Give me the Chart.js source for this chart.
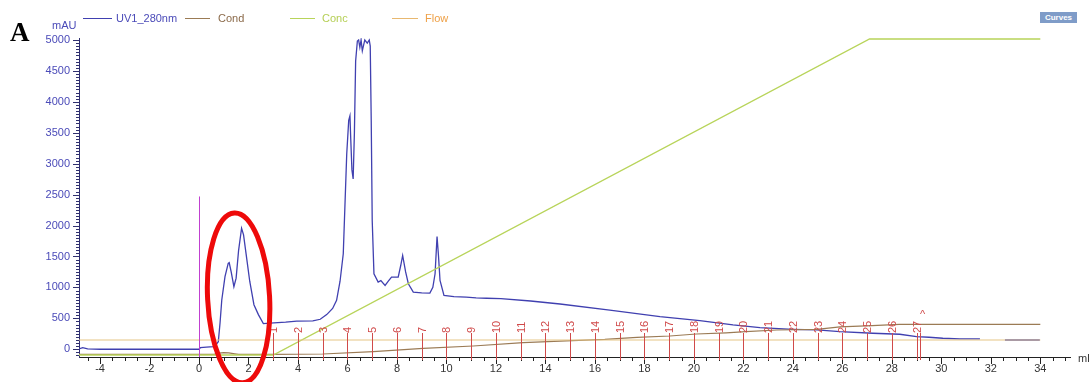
<!DOCTYPE html>
<html>
<head>
<meta charset="utf-8">
<script src="https://cdn.jsdelivr.net/npm/chart.js@4.4.1/dist/chart.umd.min.js"></script>
<style>
  body { margin: 0; background: #fff; }
  #wrap { position: relative; width: 1091px; height: 382px; overflow: hidden; }
  .t { position: absolute; font: 11px "Liberation Sans", Arial, sans-serif; white-space: nowrap; line-height: 12px; }
  .ln { position: absolute; height: 0; border-top: 1px solid; }
  #letter { position: absolute; left: 10px; top: 17px; font: bold 27px "Liberation Serif", "Times New Roman", serif; }
  #curves { position: absolute; left: 1040px; top: 12px; width: 37px; height: 11px; background: #7f9cc8;
            color: #fff; font: bold 8px "Liberation Sans", Arial, sans-serif; text-align: center; line-height: 11px; }
</style>
</head>
<body>
<div id="wrap">
  <canvas id="chrom"></canvas>
  <div id="letter">A</div>
  <div class="t" style="left:52px;top:19px;color:#4a4ab8">mAU</div>
  <div class="ln" style="left:83px;top:18px;width:29px;border-color:#4040b0"></div>
  <div class="t" style="left:116px;top:12px;color:#4a4ab8">UV1_280nm</div>
  <div class="ln" style="left:185px;top:18px;width:25px;border-color:#9b7b55"></div>
  <div class="t" style="left:218px;top:12px;color:#8b6a4a">Cond</div>
  <div class="ln" style="left:290px;top:18px;width:25px;border-color:#b8d45a"></div>
  <div class="t" style="left:322px;top:12px;color:#b5cf55">Conc</div>
  <div class="ln" style="left:392px;top:18px;width:26px;border-color:#e8b870"></div>
  <div class="t" style="left:425px;top:12px;color:#eea046">Flow</div>
  <div id="curves">Curves</div>
</div>
<script>
// UV 280 nm trace (ml, mAU)
var uvVolume = [-4.85,-4.7,-4.5,-4,-2,0,0.05,0.3,0.58,0.7,0.78,0.85,0.92,1.05,1.18,1.22,1.3,1.41,1.5,1.6,
  1.72,1.8,1.9,2.05,2.22,2.4,2.6,2.87,3.5,3.95,4.6,4.9,5.16,5.4,5.56,5.7,5.83,5.97,6.05,6.1,
  6.13,6.18,6.23,6.28,6.33,6.4,6.45,6.5,6.55,6.6,6.7,6.8,6.88,6.92,6.96,7.0,7.07,7.24,7.35,7.52,
  7.65,7.78,8.05,8.15,8.23,8.35,8.46,8.66,9.0,9.33,9.45,9.54,9.62,9.68,9.74,9.9,10.3,10.8,11.2,11.62,
  12.2,13.4,14.59,16.6,18.63,20.24,21.58,22.67,24.0,24.97,25.9,27.23,28.32,29.0,29.5,30.06,30.75,31.56,32.0,32.57,
  33.98];
var uvValue = [5,25,5,0,0,0,25,35,42,80,123,425,797,1174,1390,1400,1250,1012,1150,1600,
  1957,1850,1550,1100,720,560,414,424,440,456,458,485,560,660,790,1100,1543,3156,3700,3774,
  3424,2900,2753,3500,4661,4984,5000,4880,5000,4823,5000,4950,5000,4900,3700,2080,1221,1086,1110,1032,
  1100,1166,1166,1350,1516,1250,1059,924,912,908,1000,1221,1823,1500,1113,871,852,844,832,825,
  818,780,732,634,527,463,393,349,323,312,285,259,243,204,194,178,167,167,null,150,
  150];

// conductivity (mS/cm)
var condVolume = [-4.85,0.6,0.8,1.0,1.2,1.45,1.6,3.0,5.0,7.04,9.06,11.08,13.1,15.1,16.4,17.7,19.03,20.1,21.3,22.1,23.35,24.97,25.9,27.2,28.3,34.0];
var condValue  = [1,1,3,4,3.5,2,1,1,1.7,5.5,11,15,20.5,24,26,29.5,31.7,35,37,39,41.7,42.8,47,49,51,51];

// gradient concentration (%B)
var concVolume = [-4.85,3.0,27.1,34.0];
var concValue  = [0,0,100,100];

// flow (ml/min)
var flowVolume = [-4.85,34.0];
var flowValue  = [1,1];

// fractions
var fractionVolume = [3,4,5,6,7,8,9,10,11,12,13,14,15,16,17,18,19,20,21,22,23,24,25,26,27,28,29];
var fractionLabel  = ['1','2','3','4','5','6','7','8','9','10','11','12','13','14','15','16','17','18','19','20','21','22','23','24','25','26','27'];
var fractionEnd = 29.12;

// injection mark
var injectVolume = 0;
var injectTop = 2470;

// highlighted peaks (red ring), centre in ml / mAU
var ringVolume = 1.6;
var ringValue = 830;

// tick labels
var xTickValues = [-4,-2,0,2,4,6,8,10,12,14,16,18,20,22,24,26,28,30,32,34];
var yTickValues = [0,500,1000,1500,2000,2500,3000,3500,4000,4500,5000];

function pts(xs, ys) {
  var out = [];
  for (var i = 0; i < xs.length; i++) out.push({x: xs[i], y: ys[i]});
  return out;
}
function asTicks(vals) {
  return vals.map(function(v) { return {value: v}; });
}
function plain(v) { return String(v); }

var FONT = '"Liberation Sans", Arial, sans-serif';

var extras = {
  id: 'extras',
  afterDatasetsDraw: function(chart) {
    var ctx = chart.ctx;
    var xs = chart.scales.x, ys = chart.scales.y;
    var area = chart.chartArea;
    ctx.save();
    // x ticks, long every 2 ml, short every 0.5 ml
    ctx.strokeStyle = '#222';
    ctx.lineWidth = 1;
    for (var v = Math.ceil(xs.min * 2) / 2; v <= xs.max; v += 0.5) {
      var px = Math.round(xs.getPixelForValue(v)) + 0.5;
      var major = Math.abs(v % 2) < 1e-6;
      ctx.beginPath();
      ctx.moveTo(px, area.bottom);
      ctx.lineTo(px, area.bottom + (major ? 7 : 4));
      ctx.stroke();
    }
    // y ticks
    ctx.strokeStyle = '#303070';
    for (var w = -100; w <= 5000; w += 50) {
      var py = Math.round(ys.getPixelForValue(w)) + 0.5;
      var maj = w % 500 === 0;
      ctx.beginPath();
      ctx.moveTo(area.left, py);
      ctx.lineTo(area.left - (maj ? 6 : 3), py);
      ctx.stroke();
    }
    // injection mark
    ctx.strokeStyle = '#c040d0';
    var ix = Math.round(xs.getPixelForValue(injectVolume)) + 0.5;
    ctx.beginPath();
    ctx.moveTo(ix, ys.getPixelForValue(injectTop));
    ctx.lineTo(ix, area.bottom);
    ctx.stroke();
    // fractions
    ctx.strokeStyle = '#d04a4a';
    ctx.fillStyle = '#d04a4a';
    ctx.font = '11px ' + FONT;
    for (var i = 0; i < fractionVolume.length; i++) {
      var fx = Math.round(xs.getPixelForValue(fractionVolume[i])) + 0.5;
      ctx.beginPath();
      ctx.moveTo(fx, area.bottom - 24);
      ctx.lineTo(fx, area.bottom + 3);
      ctx.stroke();
      ctx.save();
      ctx.translate(fx + 0.5, area.bottom - 24);
      ctx.rotate(-Math.PI / 2);
      ctx.textAlign = 'left';
      ctx.textBaseline = 'middle';
      ctx.fillText(fractionLabel[i], 0, 0);
      ctx.restore();
    }
    var ex = Math.round(xs.getPixelForValue(fractionEnd)) + 0.5;
    ctx.beginPath();
    ctx.moveTo(ex, area.bottom - 24);
    ctx.lineTo(ex, area.bottom + 3);
    ctx.stroke();
    ctx.textAlign = 'center';
    ctx.textBaseline = 'middle';
    ctx.fillText('^', ex + 2, area.bottom - 42);
    // unit label
    ctx.fillStyle = '#333';
    ctx.textAlign = 'left';
    ctx.fillText('ml', area.right + 8, area.bottom + 2);
    ctx.restore();
  },
  afterDraw: function(chart) {
    // red ring drawn on top of everything
    var ctx = chart.ctx;
    var cx = chart.scales.x.getPixelForValue(ringVolume);
    var cy = chart.scales.y.getPixelForValue(ringValue);
    ctx.save();
    ctx.strokeStyle = '#ee0a0a';
    ctx.lineWidth = 5;
    ctx.beginPath();
    ctx.ellipse(cx, cy, 31, 85, -0.05, 0, Math.PI * 2);
    ctx.stroke();
    ctx.restore();
  }
};

var ctx = document.getElementById('chrom').getContext('2d');
window.chrom = new Chart(ctx, {
  type: 'line',
  data: {
    datasets: [
      { label: 'Flow', data: pts(flowVolume, flowValue), yAxisID: 'yFlow',
        borderColor: '#e6c585', borderWidth: 1.2, pointRadius: 0 },
      { label: 'Conc', data: pts(concVolume, concValue), yAxisID: 'yConc',
        borderColor: '#b8d45a', borderWidth: 1.3, pointRadius: 0 },
      { label: 'Cond', data: pts(condVolume, condValue), yAxisID: 'yCond',
        borderColor: '#9b7b55', borderWidth: 1.2, pointRadius: 0 },
      { label: 'UV1_280nm', data: pts(uvVolume, uvValue), yAxisID: 'y',
        borderColor: '#4040b0', borderWidth: 1.3, pointRadius: 0, spanGaps: false }
    ]
  },
  options: {
    responsive: true,
    maintainAspectRatio: false,
    animation: false,
    layout: { padding: { top: 38, right: 21, left: 0, bottom: 0 } },
    plugins: { legend: { display: false }, tooltip: { enabled: false } },
    scales: {
      x: {
        type: 'linear', min: -4.85, max: 35.2,
        grid: { display: false, drawTicks: false },
        border: { display: true, color: '#222' },
        ticks: {
          autoSkip: false, maxRotation: 0, padding: 5,
          color: '#333', font: { family: FONT, size: 11 }, callback: plain
        },
        afterBuildTicks: function(s) { s.ticks = asTicks(xTickValues); },
        afterFit: function(s) { s.height = 25; }
      },
      y: {
        min: -125, max: 5032,
        grid: { display: false, drawTicks: false },
        border: { display: true, color: '#303070' },
        ticks: {
          autoSkip: false, padding: 9,
          color: '#4a4ab8', font: { family: FONT, size: 11 }, callback: plain
        },
        afterBuildTicks: function(s) { s.ticks = asTicks(yTickValues); },
        afterFit: function(s) { s.width = 79; }
      },
      yConc: { display: false, min: -0.633, max: 100.316 },
      yCond: { display: false, min: -3.33, max: 528.3 },
      yFlow: { display: false, min: -0.133, max: 21.13 }
    }
  },
  plugins: [extras]
});
</script>
</body>
</html>
